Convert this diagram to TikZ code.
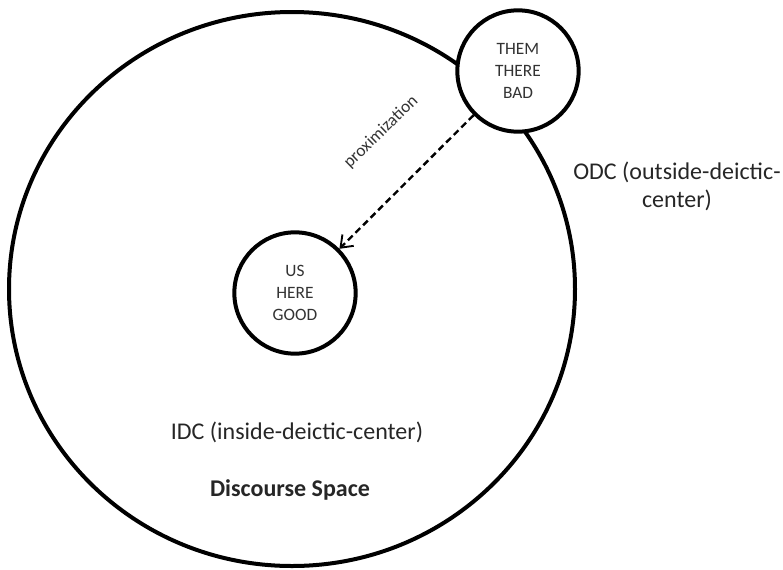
\documentclass[tikz,border=0pt]{standalone}
\usepackage{fontspec}
\setmainfont{Carlito}
\usetikzlibrary{arrows.meta, shapes.geometric, positioning}
\newcommand{\pole}[3]{
    \node[draw, circle, fill=white, line width=3pt, minimum size=91pt, inner sep=0pt, align=center, text=black!80, font=\fontsize{13}{16.5}\selectfont] (#1) at (#2) {#3};
}
\newcommand{\spacelabel}[3]{
    \node[align=center, text=black!85, font=\fontsize{18}{21}\selectfont] (#1) at (#2) {#3};
}

\begin{document}
\begin{tikzpicture}[x=0.75pt, y=-0.75pt]
    \useasboundingbox (0,0) rectangle (783,569);
    \node[draw, ellipse, line width=3pt, minimum width=424.5pt, minimum height=415.5pt, inner sep=0pt] (space) at (292, 289) {};
    \pole{us}{295, 293}{US\\HERE\\GOOD}
    \pole{them}{518, 71}{THEM\\THERE\\BAD}
    \node[rotate=44, text=black!80, font=\fontsize{13}{16}\selectfont] (prox) at (381, 132) {proximization};
    \spacelabel{idc}{297, 432}{IDC (inside-deictic-center)}
    \spacelabel{ds}{290, 490}{\bfseries Discourse Space}
    \spacelabel{odc}{677, 186}{ODC (outside-deictic-\\center)}
    \draw[dashed, line width=1.8pt, dash pattern=on 5pt off 3pt, -{Straight Barb[length=8pt, width=12pt, line width=1.4pt]}] (them) -- (us);
\end{tikzpicture}
\end{document}
